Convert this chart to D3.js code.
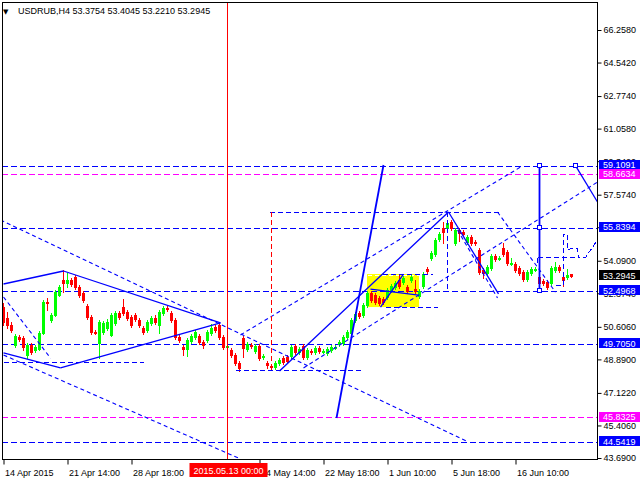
<!DOCTYPE html>
<html><head><meta charset="utf-8">
<script src="https://cdn.jsdelivr.net/npm/d3@7"></script>
<style>
html,body{margin:0;padding:0;background:#fff;}
svg{display:block;font-family:"Liberation Sans",Arial,sans-serif;}
</style></head>
<body>
<svg id="c" width="640" height="480"></svg>
<script>
// ---- data ----
const opens  = [51.65,51.07,50.70,49.65,50.07,50.02,49.12,49.65,49.38,49.44,50.28,51.92,50.97,51.23,52.28,53.08,52.92,53.08,53.23,52.71,52.39,51.70,51.12,50.33,49.75,50.33,50.55,50.18,50.81,51.34,51.65,51.39,51.12,51.23,50.97,50.55,50.44,50.81,51.07,50.70,51.34,51.60,51.34,50.97,50.07,49.54,49.44,49.86,50.07,50.12,49.81,49.91,50.28,50.60,50.70,50.07,49.54,49.38,49.12,48.70,50.02,49.44,49.65,49.33,49.60,49.02,48.70,48.54,48.49,48.70,48.96,49.02,49.07,49.60,49.28,49.60,49.02,49.33,49.28,49.49,49.28,49.23,49.38,49.49,49.70,49.75,50.07,50.28,50.97,51.34,51.23,51.76,52.39,52.28,52.13,52.07,52.18,52.55,52.71,53.08,52.97,52.71,53.08,52.60,52.23,52.76,53.66,54.24,54.45,55.24,55.82,55.82,56.13,55.03,55.71,55.61,55.08,55.34,55.08,54.66,53.60,53.44,53.71,54.34,54.18,54.76,54.55,53.92,53.92,53.71,53.50,53.13,53.44,53.60,53.23,53.02,52.97,52.92,53.60,53.76,53.23,53.23,53.3754];
const highs  = [51.86,51.39,50.86,50.23,50.18,50.12,49.75,49.75,49.65,50.39,52.02,52.13,51.34,52.55,52.81,53.60,53.44,53.18,53.34,52.81,52.50,51.81,51.23,50.44,50.97,50.91,51.02,51.34,51.44,51.44,52.07,51.49,51.23,51.34,51.07,50.65,50.97,51.18,51.23,51.49,51.70,51.70,51.44,51.07,50.23,49.65,50.02,50.23,50.44,50.23,49.91,50.44,50.76,50.70,50.81,50.18,49.70,49.49,49.23,48.81,50.12,49.81,49.75,49.70,49.70,49.17,48.81,48.65,48.81,48.96,49.07,49.12,49.65,49.70,49.54,49.70,49.49,49.44,49.60,49.60,49.44,49.54,49.65,49.65,49.91,50.18,50.44,51.07,51.39,51.44,51.86,52.50,52.50,52.39,52.23,52.18,52.65,52.86,53.02,53.34,53.29,52.81,53.34,53.08,52.60,53.50,53.76,54.60,55.29,55.61,56.13,56.24,56.24,55.82,55.82,55.71,55.45,55.45,55.18,54.76,53.71,53.87,54.45,54.45,54.34,55.03,54.66,54.24,54.02,53.81,53.60,53.60,53.76,53.76,53.34,53.13,53.08,53.81,54.02,53.87,53.50,53.66,53.4045];
const lows   = [50.70,50.55,50.33,49.54,49.86,49.38,48.96,49.17,49.28,49.38,50.23,51.49,50.86,51.18,52.23,52.44,52.71,52.76,52.60,52.18,51.92,51.02,50.23,50.23,48.96,50.23,50.44,50.12,50.70,51.02,51.23,50.97,50.60,50.91,50.60,50.23,50.33,50.70,50.76,50.28,51.23,51.44,50.86,49.96,49.81,49.12,49.07,49.75,49.96,49.70,49.49,49.81,50.18,50.33,49.96,49.44,49.49,49.02,48.59,48.28,49.02,49.33,49.49,49.23,48.86,48.91,48.44,48.33,48.38,48.59,48.65,48.70,48.96,49.17,49.17,48.91,48.91,49.17,49.17,49.23,49.23,49.12,49.28,49.44,49.60,49.65,49.96,50.18,50.86,51.07,51.12,51.65,51.92,51.81,51.76,51.81,52.07,52.44,52.60,52.65,52.86,52.39,52.97,52.39,52.13,52.65,53.44,54.13,54.34,55.13,55.03,55.71,55.71,54.92,55.13,55.40,54.97,54.92,54.92,53.39,53.18,53.34,53.60,54.08,54.13,54.34,53.87,53.87,53.50,53.34,53.02,53.02,53.34,53.55,52.81,52.81,52.60,52.81,53.50,53.50,52.76,53.13,53.2210];
const closes = [50.86,50.70,50.44,50.12,49.96,49.54,49.65,49.28,49.54,50.28,51.92,51.86,51.23,52.44,52.71,52.92,53.08,52.86,52.71,52.28,52.02,51.12,50.33,50.28,50.86,50.81,50.86,51.23,51.34,51.12,51.34,51.07,50.70,51.02,50.70,50.33,50.86,51.07,50.86,51.39,51.60,51.55,50.97,50.07,49.91,49.44,49.91,50.12,50.33,49.81,49.65,50.33,50.55,50.44,50.07,49.54,49.60,49.12,48.70,48.44,49.49,49.70,49.60,49.60,48.96,49.07,48.59,48.49,48.70,48.86,48.75,48.81,49.54,49.28,49.44,49.02,49.38,49.28,49.49,49.33,49.33,49.44,49.54,49.54,49.81,50.07,50.33,50.97,51.28,51.18,51.76,52.39,52.02,51.92,51.86,51.92,52.55,52.76,52.92,52.76,53.18,52.50,53.23,52.50,52.50,53.39,53.55,54.50,55.18,55.50,55.61,56.08,55.82,55.71,55.55,55.50,55.34,55.03,55.03,53.50,53.44,53.76,54.34,54.18,54.24,54.45,53.97,53.97,53.60,53.44,53.13,53.50,53.66,53.66,52.92,52.92,52.71,53.71,53.76,53.60,53.08,53.34,53.2945];

const priceTicks = [66.2580,64.5420,62.7740,61.0580,59.3420,57.5740,55.8580,54.0900,52.3740,50.6060,48.8900,47.1220,45.4060,43.6900];
const timeTickBars = [0,16,32,64,80,96,112,128];
const timeTickLabels = ["14 Apr 2015","21 Apr 14:00","28 Apr 18:00","14 May 14:00","22 May 18:00","1 Jun 10:00","5 Jun 18:00","16 Jun 10:00"];
const markerBar = 56, markerLabel = "2015.05.13 00:00";

const levelValues = [59.1091,58.6634,55.8394,52.4968,49.7050,45.8325,44.5419];
const levelKinds  = ["b","m","b","b","b","m","b"];
const lastPrice = 53.2945;
const titleText = "USDRUB,H4  53.3754 53.4045 53.2210 53.2945";

// analyst drawings as [bar index, price] points
const solidLines = [
  [[0,52.865],[15,53.55]], [[15,53.55],[54.25,50.81]],
  [[0,49.23],[14.25,48.44]], [[14.25,48.44],[54.25,50.81]],
  [[69,48.28],[111.25,56.66]], [[111.25,56.66],[123.75,52.34]],
  [[91.75,52.60],[103.75,52.28]], [[94.25,51.65],[100,53.39]],
  [[143,59.1091],[148.5,57.19]]
];
const thickLines = [ [[83.25,45.80],[95,59.14]], [[134,59.1091],[134,52.4968]] ];
const dashedLines = [
  [[-0.75,56.24],[116.25,44.53]], [[0,49.12],[59.25,43.64]], [[0,52.18],[11.75,48.96]],
  [[59.25,50.18],[129.25,59.03]], [[75,48.44],[148.5,58.24]],
  [[123.5,56.66],[138,52.44]], [[113.5,55.71],[123.5,52.13]]
];
const dashedFlat = [
  [[0,48.75],[35,48.75]], [[58,48.28],[90,48.28]], [[66.5,56.66],[124.25,56.66]],
  [[111,56.66],[111,52.4968]], [[94.75,53.39],[107.25,53.39]], [[95.5,51.65],[108.5,51.65]],
  [[133.5,54.24],[143.5,54.24]], [[133.5,54.24],[133.5,53.87]], [[138,52.81],[140,52.81]],
  [[140,52.81],[140,55.50],[141,55.50],[141,54.66],[142.25,54.76],[143.5,54.76],[143.75,54.24],[145.5,54.24],[146.25,54.50],[148.5,55.18]]
];
const redDashed = [[67,56.66],[67,48.22]];
const whiteDashed = [[91,53.29],[104,53.29]];
const yellowBox = {b0:91, b1:104, p0:53.39, p1:51.65};
const squares = [[134,59.1091],[134,55.8394],[134,52.4968],[143,59.1091]];

// ---- drawing ----
const svg = d3.select("#c");
const L=2, R=597, T=2, B=459;
const x = d3.scaleLinear().domain([0,142]).range([3,571]);
const y = d3.scaleLinear().domain([43.69,66.258]).range([458,30]);
const BLUE="#0000ff", MAG="#ff00ff";

svg.append("defs").append("clipPath").attr("id","pc").append("rect")
  .attr("x",L).attr("y",T).attr("width",R-L).attr("height",B-T);
const plot = svg.append("g").attr("clip-path","url(#pc)");
const line = d3.line().x(d=>x(d[0])+0.5).y(d=>y(d[1]));

// yellow rectangle (background)
plot.append("rect").attr("x",x(yellowBox.b0)).attr("y",y(yellowBox.p0))
  .attr("width",x(yellowBox.b1)-x(yellowBox.b0)).attr("height",y(yellowBox.p1)-y(yellowBox.p0))
  .attr("fill","#ffff00");
plot.append("path").attr("d",line(whiteDashed)).attr("stroke","#fff").attr("fill","none")
  .attr("stroke-dasharray","4,3").attr("shape-rendering","crispEdges");

// horizontal levels
plot.selectAll(".lvl").data(levelValues).enter().append("line")
  .attr("x1",L).attr("x2",R).attr("y1",d=>Math.round(y(d))+0.5).attr("y2",d=>Math.round(y(d))+0.5)
  .attr("stroke",(d,i)=>levelKinds[i]==="m"?MAG:BLUE).attr("stroke-dasharray","6,3")
  .attr("shape-rendering","crispEdges");

// candles
const idx = d3.range(closes.length);
const cg = plot.append("g").attr("shape-rendering","crispEdges");
idx.forEach(i=>{
  const col = closes[i] >= opens[i] ? "#00ff00" : "#ff0000";
  const cx = Math.round(x(i));
  const yh = Math.round(y(highs[i])), yl = Math.round(y(lows[i]));
  cg.append("rect").attr("x",cx).attr("y",yh).attr("width",1).attr("height",Math.max(1,yl-yh+1)).attr("fill",col);
  const yt = Math.round(y(Math.max(opens[i],closes[i]))), yb = Math.round(y(Math.min(opens[i],closes[i])));
  cg.append("rect").attr("x",cx-1).attr("y",yt).attr("width",3).attr("height",Math.max(1,yb-yt+1)).attr("fill",col);
});

// drawings
plot.selectAll(".dl").data(dashedLines).enter().append("path").attr("d",line)
  .attr("fill","none").attr("stroke",BLUE).attr("stroke-width",1.1).attr("stroke-dasharray","4,3");
plot.selectAll(".df").data(dashedFlat).enter().append("path").attr("d",line)
  .attr("fill","none").attr("stroke",BLUE).attr("stroke-dasharray","5,3").attr("shape-rendering","crispEdges");
plot.append("path").attr("d",line(redDashed)).attr("fill","none").attr("stroke","#ff0000")
  .attr("stroke-dasharray","5,3").attr("shape-rendering","crispEdges");
plot.selectAll(".sl").data(solidLines).enter().append("path").attr("d",line)
  .attr("fill","none").attr("stroke",BLUE).attr("stroke-width",1.3);
plot.selectAll(".tl").data(thickLines).enter().append("path").attr("d",line)
  .attr("fill","none").attr("stroke",BLUE).attr("stroke-width",1.8);
plot.selectAll(".sq").data(squares).enter().append("rect")
  .attr("x",d=>Math.round(x(d[0]))-2).attr("y",d=>Math.round(y(d[1]))-2.5).attr("width",4).attr("height",4)
  .attr("fill","#fff").attr("stroke",BLUE).attr("shape-rendering","crispEdges");

// marker vertical line
plot.append("line").attr("x1",Math.round(x(markerBar))+0.5).attr("x2",Math.round(x(markerBar))+0.5)
  .attr("y1",0).attr("y2",B).attr("stroke","#ff0000").attr("shape-rendering","crispEdges");

// frame
svg.append("rect").attr("x",L+0.5).attr("y",T+0.5).attr("width",R-L).attr("height",B-T)
  .attr("fill","none").attr("stroke","#000").attr("shape-rendering","crispEdges");

// price axis
const yAxis = d3.axisRight(y).tickValues(priceTicks).tickFormat(d=>d.toFixed(4)).tickSize(4).tickPadding(2);
const ya = svg.append("g").attr("transform",`translate(${R+0.5},0)`).call(yAxis);
ya.select(".domain").remove();
ya.selectAll("text").attr("font-size",9).attr("font-family","Liberation Sans, Arial, sans-serif").attr("fill","#000");
ya.selectAll("line").attr("stroke","#000");

// price boxes
const boxes = levelValues.map((v,i)=>({v, bg: levelKinds[i]==="m"?MAG:BLUE}));
boxes.push({v:lastPrice, bg:"#000"});
const bg = svg.append("g");
boxes.forEach(b=>{
  const cy = y(b.v)-0.5;
  bg.append("rect").attr("x",599).attr("y",Math.round(cy-5)).attr("width",41).attr("height",10).attr("fill",b.bg);
  bg.append("text").attr("x",603).attr("y",cy+3.3).attr("font-size",9).attr("fill","#fff").text(b.v.toFixed(4));
});

// time axis
const xAxis = d3.axisBottom(x).tickValues(timeTickBars).tickFormat((d,i)=>timeTickLabels[i]).tickSize(5).tickPadding(5);
const xa = svg.append("g").attr("transform",`translate(0.5,${B+0.5})`).call(xAxis);
xa.select(".domain").remove();
xa.selectAll("text").attr("font-size",9).attr("font-family","Liberation Sans, Arial, sans-serif")
  .attr("text-anchor","start").attr("dx",1).attr("fill","#000");
xa.selectAll("line").attr("stroke","#000");

// marker time label
const mx = x(markerBar)+0.5;
svg.append("rect").attr("x",mx-38).attr("y",463).attr("width",78).attr("height",14).attr("fill","#ff0000");
svg.append("text").attr("x",mx+1).attr("y",473.5).attr("text-anchor","middle").attr("font-size",9)
  .attr("fill","#fff").text(markerLabel);

// title
svg.append("text").attr("x",3).attr("y",14).attr("font-size",7).attr("font-family","DejaVu Sans").text("▼");
svg.append("text").attr("x",18).attr("y",14).attr("font-size",9).attr("fill","#000").text(titleText);
</script>
</body></html>
